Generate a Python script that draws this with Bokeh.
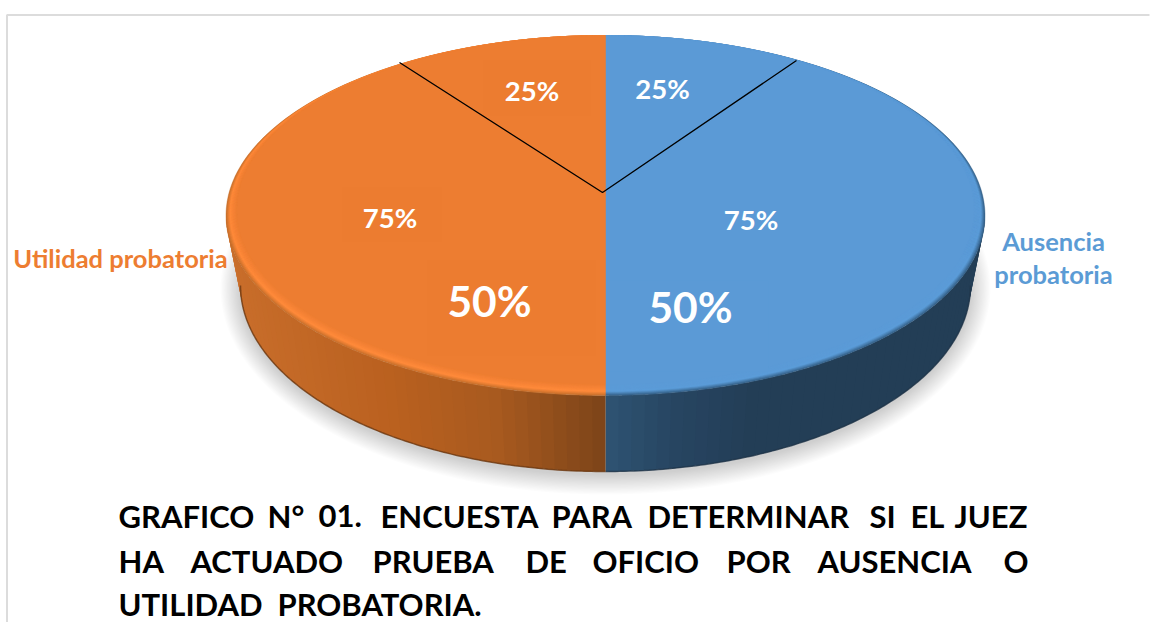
import numpy as np
from bokeh.plotting import figure
from bokeh.embed import file_html
from bokeh.resources import INLINE
from bokeh.core.properties import value

# ---- data ----
categories = ["Ausencia probatoria", "Utilidad probatoria"]
shares = [50, 50]
big_labels = ["50%", "50%"]
mid_labels = ["75%", "75%"]
small_labels = ["25%", "25%"]
title_lines = [
    ["GRAFICO", "N°", "01.", "ENCUESTA", "PARA", "DETERMINAR", "SI", "EL", "JUEZ"],
    ["HA", "ACTUADO", "PRUEBA", "DE", "OFICIO", "POR", "AUSENCIA", "O"],
    ["UTILIDAD", "PROBATORIA."],
]
divider_x = [399, 602, 796]
divider_y = [62, 192, 60]

# ---- layout and style ----
CX = 605.0
TOP = dict(a=379.5, cy=215.0, b=180.0)
INNER = dict(a=369.0, cy=209.5, b=174.5)
BOT = dict(a=365.0, cy=285.0, b=186.0)
SURFACE = ["#5B9AD6", "#ED7D31"]
LABEL_COL = ["#5B9BD5", "#ED7D31"]
BEVEL = [["#36628A", "#5B9CD8", "#5B9AD6"], ["#C8702C", "#FF8A3A", "#ED7D31"]]
WALL_X = [[605, 680, 760, 990], [225, 400, 500, 605]]
WALL_C = [["#2F5574", "#274562", "#233E56", "#233E56"],
          ["#C96E2B", "#B9601F", "#A85A1F", "#7F4519"]]
EDGE = ["#1F3549", "#6B3812"]
FONT = value("Lato")


def hex2rgb(h):
    return np.array([int(h[i:i + 2], 16) for i in (1, 3, 5)], dtype=float)


def rgb2hex(c):
    return "#%02x%02x%02x" % tuple(int(round(v)) for v in c)


def ramp(x, xs, cols):
    arr = np.array([hex2rgb(c) for c in cols])
    return rgb2hex([np.interp(x, xs, arr[:, i]) for i in range(3)])


def arc(e, t0, t1, n=120):
    t = np.radians(np.linspace(t0, t1, n))
    return CX + e["a"] * np.sin(t), e["cy"] - e["b"] * np.cos(t)


cum = np.cumsum([0] + shares) / sum(shares) * 360.0
segments = list(zip(cum[:-1], cum[1:]))

p = figure(width=1150, height=622, x_range=(0, 1150), y_range=(622, 0),
           x_axis_type=None, y_axis_type=None, toolbar_location=None,
           output_backend="svg", min_border=0, outline_line_color=None)
p.grid.visible = False

# frame of the source picture
p.line([6.5, 6.5, 1149], [622, 14.5, 14.5], line_color="#DCDCDC", line_width=2)

# soft shadow
for d in np.linspace(20, 1, 16):
    t = np.radians(np.linspace(0, 360, 180))
    p.patch(CX + (BOT["a"] + d) * np.sin(t), BOT["cy"] + 3 - (BOT["b"] + d) * np.cos(t),
            fill_color="#000000", fill_alpha=0.012, line_color=None)

# side wall, front half only; each slice overlaps the next so no seams show
for i, (t0, t1) in enumerate(segments):
    lo, hi = max(t0, 90), min(t1, 270)
    if hi <= lo:
        continue
    steps = np.arange(lo, hi, 2.0)
    xs, ys, cols = [], [], []
    for a0 in steps:
        a1 = min(a0 + 3.5, hi)
        xt, yt = arc(TOP, a0, a1, 4)
        xb, yb = arc(BOT, a0, a1, 4)
        xs.append(np.r_[xt, xb[::-1]].tolist())
        ys.append(np.r_[yt, yb[::-1]].tolist())
        cols.append(ramp(xt[0], WALL_X[i], WALL_C[i]))
    p.patches(xs, ys, fill_color=cols, line_color=None)
    xb, yb = arc(BOT, lo, hi)
    p.line(xb, yb, line_color=EDGE[i], line_width=1.5, line_alpha=0.8)

# top surface with a rounded bevel
for q in np.linspace(0, 1, 12):
    e = {k: TOP[k] + (INNER[k] - TOP[k]) * q for k in TOP}
    for i, (t0, t1) in enumerate(segments):
        x, y = arc(e, t0, t1, 180)
        col = ramp(q, [0, 0.35, 1], BEVEL[i])
        p.patch(np.r_[CX, x], np.r_[e["cy"], y], fill_color=col, line_color=col, line_width=0.4)

# faint boxes behind the pasted labels
p.quad(left=[483, 342, 427], right=[590, 441, 595], top=[60, 187, 260], bottom=[115, 241, 355],
       fill_color="#EC7C30", line_color=None)
p.quad(left=[605.5], right=[768], top=[280], bottom=[371], fill_color=SURFACE[0], line_color=None)

# hand-drawn dividers
p.line(divider_x, divider_y, line_color="#000000", line_width=1.3)

# percentage labels
p.text([531.5, 662, 389.5, 750.5], [89.5, 87.5, 216.5, 218.5],
       text=[small_labels[1], small_labels[0], mid_labels[1], mid_labels[0]],
       text_font=FONT, text_font_style="bold", text_font_size="27.5px", text_color="#FFFFFF",
       text_align="center", text_baseline="middle")
p.text([489, 690], [300, 306], text=[big_labels[1], big_labels[0]],
       text_font=FONT, text_font_style="bold", text_font_size="42.5px", text_color="#FFFFFF",
       text_align="center", text_baseline="middle")

# category labels
w0, w1 = categories[0].split(" ")
p.text([1053, 1053], [240, 273], text=[w0, w1], text_font=FONT, text_font_style="bold",
       text_font_size="25.5px", text_color=LABEL_COL[0], text_align="center", text_baseline="middle")
p.text([120], [257], text=[categories[1]], text_font=FONT, text_font_style="bold",
       text_font_size="25.5px", text_color=LABEL_COL[1], text_align="center", text_baseline="middle")

# justified caption, one word at a time
word_left = [[118, 267, 318, 380, 551, 647, 869, 910, 954],
             [118, 190, 372, 525, 592, 726, 817, 1003],
             [118, 277]]
line_mid = [515, 560.5, 603]
for words, lefts, ym in zip(title_lines, word_left, line_mid):
    p.text(lefts, [ym] * len(words), text=words, text_font=FONT, text_font_style="bold",
           text_font_size="31px", text_color="#000000", text_align="left",
           text_baseline="middle")

open("out.html", "w").write(file_html(p, INLINE))
